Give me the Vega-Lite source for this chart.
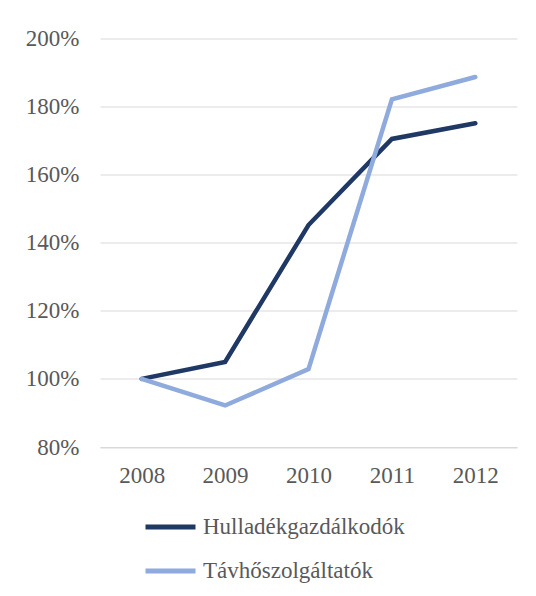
{
  "$schema": "https://vega.github.io/schema/vega-lite/v6.json",
  "width": 417,
  "height": 408.5,
  "autosize": {"type": "none"},
  "padding": {"left": 100, "top": 38.5, "right": 19, "bottom": 149},
  "background": "white",
  "config": {
    "view": {"stroke": null},
    "font": "Liberation Serif",
    "axis": {"labelFont": "Liberation Serif", "labelFontSize": 23, "labelColor": "#595959"},
    "legend": {"labelFont": "Liberation Serif", "labelFontSize": 23, "labelColor": "#595959"}
  },
  "data": {
    "values": [
      {"year": "2008", "series": "Hulladékgazdálkodók", "value": 1.0},
      {"year": "2009", "series": "Hulladékgazdálkodók", "value": 1.05},
      {"year": "2010", "series": "Hulladékgazdálkodók", "value": 1.452},
      {"year": "2011", "series": "Hulladékgazdálkodók", "value": 1.705},
      {"year": "2012", "series": "Hulladékgazdálkodók", "value": 1.751},
      {"year": "2008", "series": "Távhőszolgáltatók", "value": 1.0},
      {"year": "2009", "series": "Távhőszolgáltatók", "value": 0.922},
      {"year": "2010", "series": "Távhőszolgáltatók", "value": 1.029},
      {"year": "2011", "series": "Távhőszolgáltatók", "value": 1.821},
      {"year": "2012", "series": "Távhőszolgáltatók", "value": 1.887}
    ]
  },
  "mark": {"type": "line", "strokeWidth": 4.5, "strokeCap": "round", "strokeJoin": "miter"},
  "encoding": {
    "x": {
      "field": "year", "type": "ordinal", "title": null,
      "scale": {"type": "point", "padding": 0.5},
      "axis": {"labelAngle": 0, "domain": true, "domainColor": "#d9d9d9", "domainWidth": 1, "ticks": false, "labelPadding": 17, "grid": false}
    },
    "y": {
      "field": "value", "type": "quantitative", "title": null,
      "scale": {"domain": [0.8, 2.0], "nice": false, "zero": false},
      "axis": {"values": [0.8, 1.0, 1.2, 1.4, 1.6, 1.8, 2.0], "format": ".0%", "domain": false, "ticks": false, "labelPadding": 21, "grid": true, "gridColor": "#d9d9d9", "gridWidth": 1}
    },
    "color": {
      "field": "series", "type": "nominal", "title": null,
      "scale": {"domain": ["Hulladékgazdálkodók", "Távhőszolgáltatók"], "range": ["#1f3864", "#8faadc"]},
      "legend": {
        "orient": "none", "legendX": 43, "legendY": 461, "direction": "vertical",
        "symbolType": "stroke", "symbolSize": 2500, "symbolStrokeWidth": 5,
        "labelOffset": 5, "rowPadding": 4, "labelLimit": 400
      }
    }
  }
}
